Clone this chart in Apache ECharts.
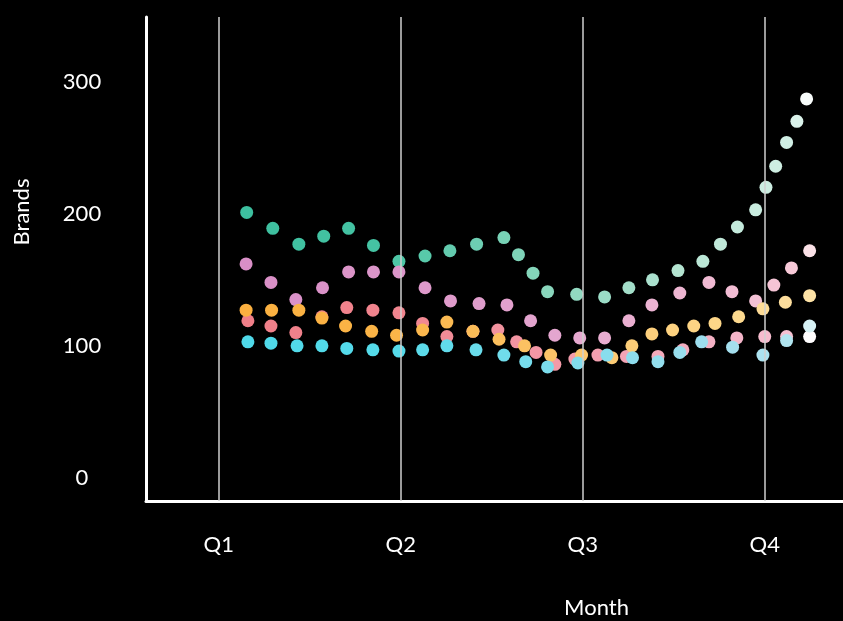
<!DOCTYPE html>
<html>
<head>
<meta charset="utf-8">
<script src="https://cdn.jsdelivr.net/npm/echarts@6/dist/echarts.min.js"></script>
<style>
  html, body { margin: 0; padding: 0; background: #000; }
  #chart { width: 843px; height: 621px; }
</style>
</head>
<body>
<div id="chart"></div>
<script>
// quarters on the month axis
const quarterLabels = ["Q1", "Q2", "Q3", "Q4"];
const quarterMonths = [0, 3, 6, 9];
const brandTicks = [0, 100, 200, 300];

// series values (month, brands)
const tealMonth = [0.46, 0.89, 1.32, 1.73, 2.14, 2.55, 2.97, 3.40, 3.81, 4.25, 4.70, 4.94, 5.18, 5.42, 5.90, 6.36, 6.76, 7.15, 7.57, 7.98, 8.27, 8.55, 8.85, 9.02, 9.18, 9.36, 9.53, 9.69];
const tealBrands = [201, 189, 177, 183, 189, 176, 164, 168, 172, 177, 182, 169, 155, 141, 139, 137, 144, 150, 157, 164, 177, 190, 203, 220, 236, 254, 270, 287];

const pinkMonth = [0.45, 0.86, 1.27, 1.71, 2.14, 2.55, 2.97, 3.40, 3.82, 4.29, 4.75, 5.14, 5.54, 5.95, 6.36, 6.76, 7.14, 7.60, 8.08, 8.46, 8.85, 9.15, 9.44, 9.74];
const pinkBrands = [162, 148, 135, 144, 156, 156, 156, 144, 134, 132, 131, 119, 108, 106, 106, 119, 131, 140, 148, 141, 134, 146, 159, 172];

const salmonMonth = [0.48, 0.86, 1.27, 1.70, 2.11, 2.54, 2.97, 3.36, 3.76, 4.19, 4.60, 4.91, 5.23, 5.54, 5.87, 6.25, 6.72, 7.24, 7.65, 8.08, 8.54, 9.00, 9.36, 9.74];
const salmonBrands = [119, 115, 110, 122, 129, 127, 125, 117, 107, 111, 112, 103, 95, 86, 90, 93, 92, 92, 97, 103, 106, 107, 107, 107];

const orangeMonth = [0.45, 0.87, 1.32, 1.70, 2.09, 2.52, 2.93, 3.36, 3.76, 4.19, 4.62, 5.04, 5.47, 5.98, 6.48, 6.81, 7.14, 7.48, 7.83, 8.18, 8.57, 8.97, 9.34, 9.74];
const orangeBrands = [127, 127, 127, 121, 115, 111, 108, 112, 118, 111, 105, 100, 93, 93, 91, 100, 109, 112, 115, 117, 122, 128, 133, 138];

const cyanMonth = [0.48, 0.86, 1.29, 1.70, 2.11, 2.54, 2.97, 3.36, 3.76, 4.24, 4.70, 5.06, 5.42, 5.92, 6.40, 6.82, 7.24, 7.60, 7.96, 8.47, 8.97, 9.36, 9.74];
const cyanBrands = [103, 102, 100, 100, 98, 97, 96, 97, 100, 97, 93, 88, 84, 87, 93, 91, 88, 95, 103, 99, 93, 104, 115];

// colour fades from left to right: [month, colour] anchors per series
const fades = [
  [[0.4, "#3dbf9f"], [2.6, "#45c3a3"], [5.2, "#84d5ba"], [7.6, "#b4e4d2"], [9.5, "#d4f0e6"], [9.7, "#ffffff"]],
  [[0.4, "#d98fc7"], [3.0, "#dc96c9"], [5.5, "#e4a6cf"], [8.0, "#f0b9d3"], [9.4, "#f6c6d6"], [9.75, "#fbe2e8"]],
  [[0.4, "#f07f89"], [3.0, "#f1858f"], [5.5, "#f39aa8"], [8.5, "#f4b4c8"], [9.4, "#f6c2d2"], [9.75, "#ffffff"]],
  [[0.4, "#fbb040"], [3.0, "#fbb548"], [5.5, "#fcc468"], [8.5, "#fdd88c"], [9.75, "#fde2a6"]],
  [[0.4, "#4fd9e9"], [3.0, "#56dbea"], [5.5, "#7cdcec"], [8.5, "#a4dfee"], [9.4, "#b2e5f0"], [9.75, "#d8f2f6"]]
];
const fadeMin = 0.4;
const fadeMax = 9.75;

function fadeColors(anchors) {
  let out = [];
  let n = 80;
  for (let i = 0; i <= n; i++) {
    let m = fadeMin + (fadeMax - fadeMin) * i / n;
    let k = 0;
    while (k < anchors.length - 2 && m > anchors[k + 1][0]) k++;
    let a = anchors[k], b = anchors[k + 1];
    let t = Math.max(0, Math.min(1, (m - a[0]) / (b[0] - a[0])));
    out.push(echarts.color.lerp(t, [a[1], b[1]]));
  }
  return out;
}

function pairs(xs, ys) {
  return xs.map((x, i) => [x, ys[i]]);
}

const seriesData = [
  pairs(tealMonth, tealBrands),
  pairs(pinkMonth, pinkBrands),
  pairs(salmonMonth, salmonBrands),
  pairs(orangeMonth, orangeBrands),
  pairs(cyanMonth, cyanBrands)
];

const font = "Lato";

let myChart = echarts.init(document.getElementById("chart"));
myChart.setOption({
  backgroundColor: "#000",
  animation: false,
  grid: {
    left: 146,
    right: 0,
    top: 17,
    bottom: 120,
    outerBoundsMode: "none"
  },
  xAxis: {
    type: "value",
    min: -1.2,
    max: 10.29,
    name: "Month",
    nameLocation: "middle",
    nameGap: 96,
    nameTextStyle: {
      color: "#fff",
      fontFamily: font,
      fontSize: 22,
      padding: [0, 0, 0, 204]
    },
    axisLine: { onZero: false, lineStyle: { color: "#fff", width: 3 } },
    axisTick: { show: false },
    splitLine: { show: false },
    axisLabel: {
      customValues: quarterMonths,
      formatter: function(v) {
        return quarterLabels[quarterMonths.indexOf(v)] || "";
      },
      color: "#fff",
      fontFamily: font,
      fontSize: 22,
      margin: 33
    }
  },
  yAxis: {
    type: "value",
    min: -17.5,
    max: 349,
    name: "Brands",
    nameLocation: "middle",
    nameGap: 113,
    nameTextStyle: {
      color: "#fff",
      fontFamily: font,
      fontSize: 22,
      padding: [0, 0, 0, 94]
    },
    axisLine: { show: true, onZero: false, lineStyle: { color: "#fff", width: 3 } },
    axisTick: { show: false },
    splitLine: { show: false },
    axisLabel: {
      customValues: brandTicks,
      color: "#fff",
      fontFamily: font,
      fontSize: 22,
      align: "center",
      margin: 64
    }
  },
  visualMap: fades.map((anchors, i) => ({
    type: "continuous",
    show: false,
    seriesIndex: i,
    dimension: 0,
    min: fadeMin,
    max: fadeMax,
    inRange: { color: fadeColors(anchors) }
  })),
  series: seriesData
    .map((d) => ({
      type: "scatter",
      symbol: "circle",
      symbolSize: 13,
      itemStyle: { opacity: 1 },
      data: d
    }))
    .concat([
      {
        // quarter guide lines, drawn over the dots
        type: "scatter",
        data: [],
        z: 10,
        markLine: {
          silent: true,
          symbol: "none",
          label: { show: false },
          lineStyle: { color: "#cfcfcf", width: 1.5, type: "solid" },
          data: quarterMonths.map((m) => ({ xAxis: m }))
        }
      }
    ])
});
</script>
</body>
</html>
